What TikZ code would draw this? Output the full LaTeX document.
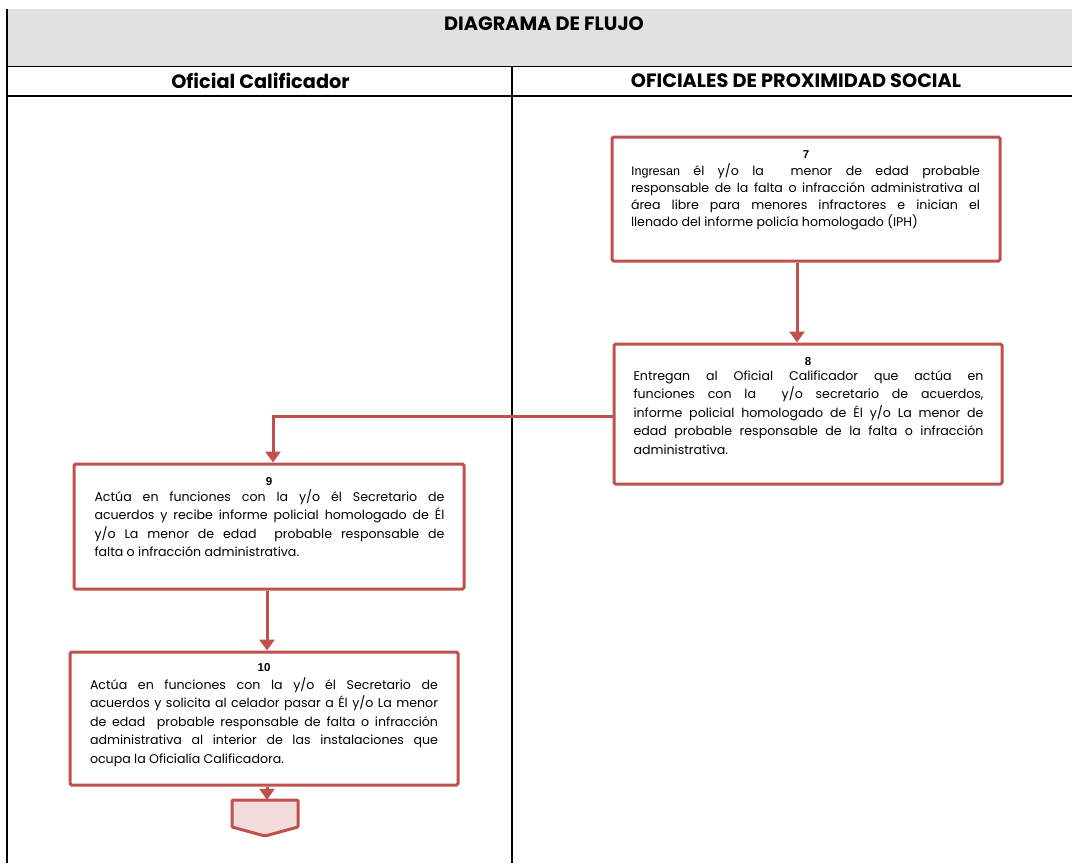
\documentclass[tikz,border=0pt]{standalone}
\usepackage{fontspec}
\setmainfont{Poppins}
\newfontfamily\arialf{Liberation Sans}
\usetikzlibrary{calc,arrows.meta}
\definecolor{boxred}{HTML}{C0504D}
\definecolor{hdrgray}{HTML}{E1E1E1}
\definecolor{offpink}{HTML}{F2DCDB}
\tikzset{
  stepbox/.style={draw=boxred, line width=3pt, rounded corners=1.5pt, fill=white, inner sep=0pt},
  bodytxt/.style={text width=350pt, align=justify, inner sep=0pt, font=\fontsize{12.6}{18.6}\selectfont},
  flow/.style={draw=boxred, line width=3pt, -{Triangle[length=11pt,width=15pt]}},
  hdr/.style={font=\bfseries\fontsize{19.3}{20}\selectfont, inner sep=0pt},
  numtxt/.style={font=\arialf\bfseries\fontsize{11.5}{12}\selectfont, inner sep=0pt},
  gridline/.style={line width=1.3pt, black}
}
\begin{document}
\begin{tikzpicture}[x=1pt,y=-1pt]
\useasboundingbox (0,0) rectangle (1072,863);
% table
\fill[hdrgray] (8,9) rectangle (1072,66.5);
\draw[gridline] (7,9) -- (7,863);
\draw[gridline] (7,66.5) -- (1072,66.5);
\draw[gridline] (7,96) -- (1072,96);
\draw[gridline] (512,66.5) -- (512,863);
\node[hdr] (title) at (544,24) {DIAGRAMA DE FLUJO};
\node[hdr] (laneA) at (260.5,81) {Oficial Calificador};
\node[hdr] (laneB) at (796,81) {OFICIALES DE PROXIMIDAD SOCIAL};
% boxes
\node[stepbox, minimum width=388pt, minimum height=124pt] (b7) at (806,199) {};
\node[stepbox, minimum width=388pt, minimum height=140pt] (b8) at (808,414) {};
\node[stepbox, minimum width=390pt, minimum height=125pt] (b9) at (269,526.5) {};
\node[stepbox, minimum width=388pt, minimum height=133pt] (b10) at (264,718.5) {};
% off-page connector
\draw[draw=boxred, line width=3pt, fill=offpink, rounded corners=1pt] (232,800) -- (298,800) -- (298,827) -- (265,836) -- (232,827) -- cycle;
\node[inner sep=0pt, minimum width=66pt, minimum height=36pt] (b11) at (265,818) {};
% texts
\node[numtxt] (n7) at (806,155) {7};
\node[bodytxt, text width=349pt, anchor=north, font=\fontsize{12.6}{17}\selectfont] (t7) at (805.5,163) {{\arialf Ingresan} él y/o la \ menor de edad probable\linebreak responsable de la falta o infracción administrativa al\linebreak área libre para menores infractores e inician el\linebreak llenado del informe policía homologado (IPH)};
\node[numtxt] (n8) at (808,362) {8};
\node[bodytxt, anchor=north] (t8) at (808.5,370) {Entregan al Oficial Calificador que actúa en\linebreak funciones con la \ y/o secretario de acuerdos,\linebreak informe policial homologado de Él y/o La menor de\linebreak edad probable responsable de la falta o infracción\linebreak administrativa.};
\node[numtxt] (n9) at (269,482) {9};
\node[bodytxt, anchor=north] (t9) at (269.5,489) {Actúa en funciones con la y/o él Secretario de\linebreak acuerdos y recibe informe policial homologado de Él\linebreak y/o La menor de edad \ probable responsable de\linebreak falta o infracción administrativa.};
\node[numtxt] (n10) at (264,668) {10};
\node[bodytxt, text width=348pt, anchor=north] (t10) at (264,677) {Actúa en funciones con la y/o él Secretario de\linebreak acuerdos y solicita al celador pasar a Él y/o La menor\linebreak de edad \ probable responsable de falta o infracción\linebreak administrativa al interior de las instalaciones que\linebreak ocupa la Oficialía Calificadora.};
% connectors
\draw[flow] (b7.south -| 797,0) -- (b8.north -| 797,0);
\draw[flow] (b8.west |- 0,416) -| (273,0 |- b9.north);
\draw[flow] (b9.south -| 267,0) -- (b10.north -| 267,0);
\draw[flow] (b10.south -| 267,0) -- (b11.north -| 267,0);
\end{tikzpicture}
\end{document}
